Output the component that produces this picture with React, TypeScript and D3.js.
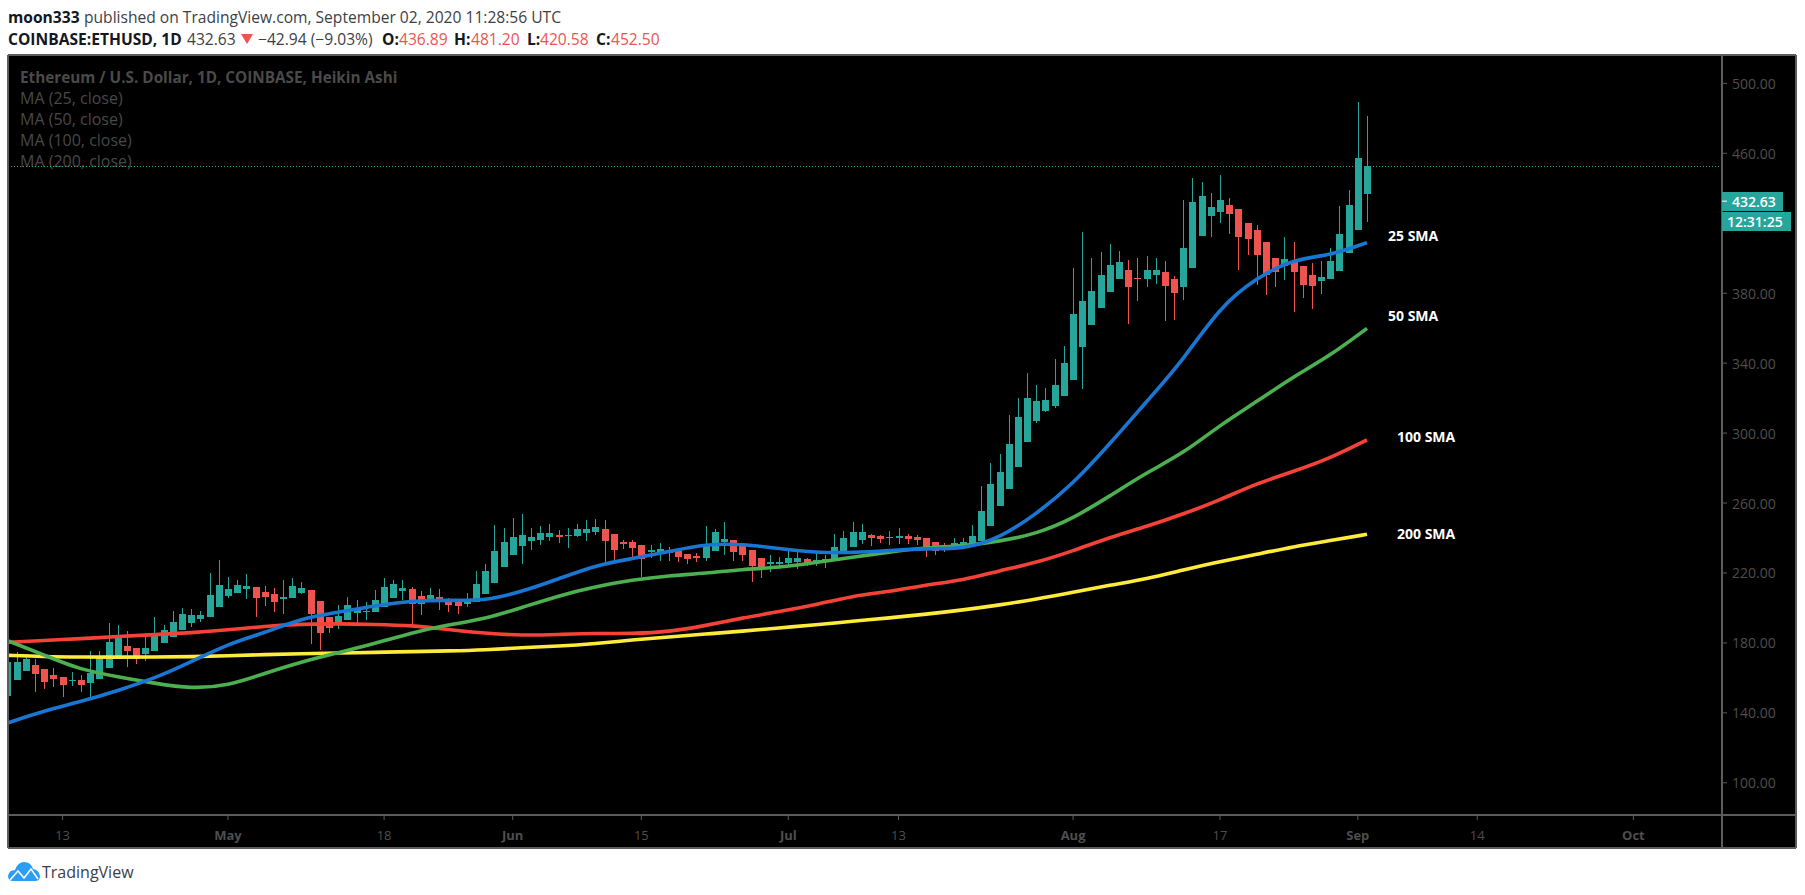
import * as d3 from "d3";

// Heikin Ashi candles, one per day from Apr 7 to Sep 2 2020
const firstDay = new Date(Date.UTC(2020, 3, 7));
const lastDay = new Date(Date.UTC(2020, 8, 2));

const candleOpen = [
  // Apr
  149.6,158.8,163.9,167.3,165,161.6,160.5,158.2,158.8,157,159.3,165.6,172.5,178.2,177.1,173.6,175.3,179.9,183.3,187.4,191.4,193.6,194.8,200.5,
  // May
  206.8,208.5,210.8,211.9,209.1,207.9,205.1,205.7,208.5,210.2,203.9,194.8,191.4,193.1,197.1,197.7,197.7,200.5,205.7,209.7,210.8,206.8,204.5,206.2,205.1,203.4,202.3,203.4,208,214.3,223.4,
  // Jun
  230.3,235.5,238.3,238.9,240.6,241.7,241.2,241.2,242.9,243.5,245.2,242.3,237.7,237.7,236,232,232,233.2,232.6,230.9,229.7,228.6,232.6,237.7,238.9,235.5,233.2,228.6,225.2,225.2,
  // Jul
  225.7,226.3,228,226.9,227.4,226.9,230.9,234.9,238.9,241.7,241.2,240,240,241.2,240.6,240,237.7,235.5,234.3,234.8,235.4,238.3,246.9,258.3,268,280.6,294.9,306.9,312.6,315.5,321.2,
  // Aug
  330.4,349.3,361.8,371.6,380.7,388.1,393.3,388.7,388.1,390.4,392.1,388.1,383.6,394.4,412.7,424.1,426.4,430.4,428.1,420.2,416.2,409.3,400.2,395.6,397.9,395.6,390.4,387,388.1,392.7,403,
  // Sep
  416.2,436.89,
];
const candleClose = [
  169.1,169.1,170.8,162.2,157.6,159.3,155.9,158.8,155.9,162.8,171.9,180.5,183.9,175.3,170.8,177.1,185.6,187.4,191.9,196.5,195.9,195.9,207.4,213.1,
  210.8,213.1,212.5,205.7,206.2,203.4,206.2,212.5,211.4,196.5,185.6,188.5,195.4,201.7,198.8,198.2,204.5,211.9,213.7,211.4,202.2,202.2,207.4,203.4,201.7,201.1,205.1,213.7,221.2,232.6,237.7,
  240.6,241.7,240.6,242.9,242.9,240.6,241.7,245.2,245.2,246.3,238.3,233.2,236.6,234.3,228,233.2,233.7,231.5,229.2,228,228.6,236.6,243.5,239.5,232,230.3,224,222.3,226.3,226.3,
  228.6,228.6,225.7,227.4,228,234.9,240,243.5,243.5,240,239.5,240.6,241.2,239.5,238.9,234.9,232.6,234.3,237.1,237.7,241.1,255.4,270.9,277.7,293.7,309.2,320,318.3,318.9,327.5,340.1,
  368.1,375.6,381.3,390.4,396.1,397.9,383.6,388.1,393.3,393.3,384.1,380.1,405.9,432.1,435.6,429.3,433.3,425.3,412.2,411,401.9,390.4,392.1,399.6,392.1,384.7,384.1,389.3,398.4,413.9,430.4,
  457.3,452.5,
];
const candleHigh = [
  169.1,174.8,173.4,170.8,165,165.6,160.5,163.3,161.6,175.3,175.3,191.4,190.2,186.8,177.1,184.5,194.8,190.2,198.2,199.9,199.3,198.2,219.9,227.4,
  217.7,216,219.4,211.9,212.5,211.4,216,217.1,214.8,210.2,203.9,194.8,201.7,206.2,204.5,203.4,210.2,217.1,216,216,211.9,209.7,211.4,210.8,205.7,205,208.6,221.2,225.2,247.5,245.8,
  251.5,253.8,245.8,246.9,248,244.6,245.8,248,250.3,250.9,250.3,242.3,238.9,238.9,236,236,237.2,234.9,232.6,230.9,231.5,246.9,245.2,249.2,238.9,235.5,233.2,228.6,230.3,229.2,
  233.2,232,228.6,231.5,230.3,242.3,244,249.2,248,242.3,241.7,244,245.8,242.3,241.7,240,237.7,237.2,240,240,247.4,269.7,282.9,288,310.3,320,334.3,327.5,325.8,342.4,349.8,
  394.4,415,400.2,403.6,408.2,404.2,399,400.2,401.3,400.2,398.4,389.9,433.3,445.9,443.6,437.3,447.6,434.4,428.1,420.2,419,409.3,400.2,412.2,409.3,395.6,397.3,398.4,405.9,429.9,439,
  489.3,481.2,
];
const candleLow = [
  149.6,158.8,163.9,151.9,153.6,154.8,149,155.3,151.9,147.9,159.3,165.6,172.5,166.2,167.9,169.6,175.3,179.9,183.3,187.4,189.1,191.9,194.8,200.5,
  205.7,208.5,205.1,194.8,201.1,197.7,196.5,205.7,207.9,179.4,175.9,185.6,187.9,193.1,190.8,193.1,197.7,200.5,205.7,204.5,190.8,195.9,203.9,198.8,197.7,196.6,200.6,203.4,208,214.3,223.4,
  230.3,225.2,233.2,236,238.3,237.2,234.3,240.6,238.3,241.7,224.6,227.5,233.7,229.2,217.7,228.6,226.9,226.9,226.3,225.2,226.3,226.9,232.6,230.3,226.9,226.9,214.9,217.2,220.6,222.3,
  224,222.3,224,224,222.9,226.9,230.9,234.9,236.6,235.5,237.2,236,236.6,236.6,236,229.2,230.3,232,233.1,233.7,235.4,238.3,246.9,258.3,268,280.6,294.9,305.8,312,314.4,321.2,
  330.4,325.2,361.8,371.6,380.7,388.1,362.4,375.6,383.6,385.3,364.1,364.7,376.1,394.4,412.7,412.2,420.2,413.9,393.3,401.9,384.7,379,383.6,387.6,369.3,377.3,371,379.6,388.1,392.7,403,
  416.2,420.58,
];

// moving averages, read every 4th day starting Apr 7
const sma25 = [134.2,141.2,146.4,152.7,159.7,169.2,179.4,185.8,194,197.5,201.3,204.1,204.5,204,209.3,216.6,224.4,228.2,232.2,236.6,236.6,233.9,231.6,231.6,232.8,234.1,233.5,239.8,253.7,270.9,293.8,318,341.8,372.3,388.9,399.6,401.5,408.9];
const sma50 = [181.3,173.1,164.5,160.7,156.9,153.8,155.5,162.6,169.2,174.4,179.7,185.8,190.4,193.7,200.2,207,212.2,216,218.5,219.8,222.1,223.1,225.9,229,232,234.5,235.4,238.1,242.3,251.1,264,277.4,288.4,304.6,318,332.3,344.3,359.9];
const sma100 = [180.3,181.4,182.4,183.7,184.7,185.8,187.4,189.5,190.8,191,190.6,190,187.7,185.5,184.2,184.8,185.5,185.3,186.3,189.9,194.3,197.9,201.7,206.9,209.3,213.2,215.8,221.3,225.9,232.6,240.4,246.5,253.7,261.7,271.3,278,285.6,296.1];
const sma200 = [172.9,172.1,171.9,171.9,171.9,172.1,172.7,173.3,173.8,174.2,174.6,175,175.4,176,177.3,178.1,179.6,181.7,183.4,185.1,186.7,188.6,190.3,192.4,194.3,196.4,198.8,201.7,205,208.9,213,216.6,221.7,226.5,230.7,235,238.5,242.1];

// 420 sits behind the countdown box in the reference, so it is not listed
const priceTicks = [500, 460, 380, 340, 300, 260, 220, 180, 140, 100];
const dateTicks = [
  { date: [3, 13], label: "13" },
  { date: [4, 1], label: "May" },
  { date: [4, 18], label: "18" },
  { date: [5, 1], label: "Jun" },
  { date: [5, 15], label: "15" },
  { date: [6, 1], label: "Jul" },
  { date: [6, 13], label: "13" },
  { date: [7, 1], label: "Aug" },
  { date: [7, 17], label: "17" },
  { date: [8, 1], label: "Sep" },
  { date: [8, 14], label: "14" },
  { date: [9, 1], label: "Oct" },
];
const maLegend = ["MA (25, close)", "MA (50, close)", "MA (100, close)", "MA (200, close)"];
const maLabels = ["25 SMA", "50 SMA", "100 SMA", "200 SMA"];

const lastClose = 452.5;
const lastPrice = 432.63;

const UP = "#26a69a";
const DOWN = "#ef5350";
const FRAME = "#5c5c5c";
const AXIS_TEXT = "#4e4e4e";
const FONT = "'Open Sans', sans-serif";

const pane = { left: 8, right: 1722, top: 55, bottom: 815, outer: 1796, foot: 848 };

const xScale = d3
  .scaleUtc()
  .domain([new Date(Date.UTC(2020, 3, 13)), new Date(Date.UTC(2020, 9, 1))])
  .range([62.6, 1633.4]);

const yScale = d3.scaleLinear().domain([460, 100]).range([153.3, 782.8]);

const days = d3.utcDay.range(firstDay, d3.utcDay.offset(lastDay, 1));
const maDays = d3.utcDay.range(firstDay, d3.utcDay.offset(lastDay, 1), 4);

const maLine = d3
  .line<number>()
  .x((_, i) => xScale(maDays[i]))
  .y((d) => yScale(d))
  .curve(d3.curveBasis);

const maSeries = [
  { values: sma200, color: "#ffeb3b" },
  { values: sma100, color: "#f44336" },
  { values: sma50, color: "#4caf50" },
  { values: sma25, color: "#1976d2" },
];

const priceFormat = d3.format(".2f");

export default function App() {
  const closeY = Math.round(yScale(lastClose)) + 0.5;

  return (
    <svg
      width={1805}
      height={895}
      style={{ position: "absolute", left: 0, top: 0, background: "#fff" }}
      fontFamily={FONT}
    >
      <defs>
        <clipPath id="pane">
          <rect x={pane.left} y={pane.top} width={pane.right - pane.left} height={pane.bottom - pane.top} />
        </clipPath>
      </defs>

      {/* header */}
      <g fontSize={15.6} fill="#131722" dominantBaseline="central">
        <text x={8} y={17} fontWeight={700}>moon333</text>
        <text x={84} y={17} fill="#3c3f47">published on TradingView.com, September 02, 2020 11:28:56 UTC</text>
        <text x={8} y={39} fontWeight={700}>COINBASE:ETHUSD, 1D</text>
        <text x={187} y={39} fill="#3c3f47">432.63</text>
        <path d="M241,34 L253,34 L247,44 Z" fill={DOWN} />
        <text x={258} y={39} fill="#3c3f47">−42.94 (−9.03%)</text>
        <text x={382} y={39} fontWeight={700}>O:</text>
        <text x={399} y={39} fill={DOWN}>436.89</text>
        <text x={454} y={39} fontWeight={700}>H:</text>
        <text x={471} y={39} fill={DOWN}>481.20</text>
        <text x={527} y={39} fontWeight={700}>L:</text>
        <text x={540} y={39} fill={DOWN}>420.58</text>
        <text x={596} y={39} fontWeight={700}>C:</text>
        <text x={611} y={39} fill={DOWN}>452.50</text>
      </g>

      {/* chart background and frame */}
      <rect x={pane.left} y={pane.top} width={pane.outer - pane.left} height={pane.foot - pane.top} fill="#000" />

      {/* legend inside the pane */}
      <g dominantBaseline="central">
        <text x={20} y={77} fontSize={15.3} fontWeight={700} fill="#4a4a4a">
          Ethereum / U.S. Dollar, 1D, COINBASE, Heikin Ashi
        </text>
        {maLegend.map((label, i) => (
          <text key={label} x={20} y={98 + i * 21} fontSize={16} fill="#484848">{label}</text>
        ))}
      </g>

      <g clipPath="url(#pane)">
        {/* last close */}
        <line
          x1={pane.left}
          x2={pane.right}
          y1={closeY}
          y2={closeY}
          stroke={UP}
          strokeDasharray="1 2"
          shapeRendering="crispEdges"
        />

        {/* candles */}
        {days.map((day, i) => {
          const cx = Math.round(xScale(day)) + 0.5;
          const color = candleClose[i] >= candleOpen[i] ? UP : DOWN;
          const top = yScale(Math.max(candleOpen[i], candleClose[i]));
          const bottom = yScale(Math.min(candleOpen[i], candleClose[i]));
          return (
            <g key={i} fill={color} stroke={color}>
              <line x1={cx} x2={cx} y1={yScale(candleHigh[i])} y2={yScale(candleLow[i])} shapeRendering="crispEdges" />
              <rect
                x={cx - 3.5}
                y={top}
                width={7}
                height={Math.max(bottom - top, 1)}
                stroke="none"
                shapeRendering="crispEdges"
              />
            </g>
          );
        })}

        {/* moving averages */}
        {maSeries.map((s) => (
          <path key={s.color} d={maLine(s.values) ?? ""} fill="none" stroke={s.color} strokeWidth={3.6} />
        ))}
      </g>

      {/* SMA notes */}
      <g fill="#fff" fontSize={14} fontWeight={700} dominantBaseline="central">
        <text x={1388} y={235}>{maLabels[0]}</text>
        <text x={1388} y={315}>{maLabels[1]}</text>
        <text x={1397} y={436}>{maLabels[2]}</text>
        <text x={1397} y={533}>{maLabels[3]}</text>
      </g>

      {/* frame lines */}
      <g stroke={FRAME} strokeWidth={1.5} shapeRendering="crispEdges">
        <line x1={pane.left} x2={pane.outer} y1={pane.top} y2={pane.top} />
        <line x1={pane.left} x2={pane.outer} y1={pane.foot} y2={pane.foot} />
        <line x1={pane.left} x2={pane.outer} y1={pane.bottom} y2={pane.bottom} />
        <line x1={pane.left} x2={pane.left} y1={pane.top} y2={pane.foot} />
        <line x1={pane.right} x2={pane.right} y1={pane.top} y2={pane.foot} />
        <line x1={pane.outer} x2={pane.outer} y1={pane.top} y2={pane.foot} />
      </g>

      {/* price axis */}
      <g fontSize={14} fill={AXIS_TEXT}>
        {priceTicks.map((p) => (
          <g key={p}>
            <line x1={pane.right} x2={pane.right + 5} y1={yScale(p)} y2={yScale(p)} stroke={FRAME} />
            <text x={1732} y={yScale(p)} dominantBaseline="central">{priceFormat(p)}</text>
          </g>
        ))}
      </g>

      {/* last price boxes */}
      <rect x={pane.right} y={192} width={61} height={19} fill={UP} />
      <line x1={pane.right} x2={pane.right + 5} y1={yScale(lastPrice)} y2={yScale(lastPrice)} stroke="#fff" />
      <text x={1732} y={201.5} fontSize={14} fontWeight={600} fill="#fff" dominantBaseline="central">
        {priceFormat(lastPrice)}
      </text>
      <rect x={pane.right} y={212} width={69} height={19} fill={UP} />
      <text x={1727} y={221.5} fontSize={14} fontWeight={600} fill="#fff" dominantBaseline="central">12:31:25</text>

      {/* time axis */}
      <g fontSize={13} fill={AXIS_TEXT} textAnchor="middle">
        {dateTicks.map((t) => {
          const x = xScale(new Date(Date.UTC(2020, t.date[0], t.date[1])));
          return (
            <g key={t.date.join("-")}>
              <line x1={x} x2={x} y1={pane.bottom} y2={pane.bottom + 5} stroke={FRAME} />
              <text x={x} y={835} fontWeight={/[a-z]/.test(t.label) ? 700 : 400} dominantBaseline="central">
                {t.label}
              </text>
            </g>
          );
        })}
      </g>

      {/* logo */}
      <path
        d="M8,876 Q9,870 15,870 Q18,862 24,862 Q31,862 33,869 Q39,870 40,876 Q40,881 35,881 L13,881 Q8,881 8,876 Z"
        fill="#2a9df4"
      />
      <path d="M10,880 L18,871 L24,878 L31,869 L38,879" fill="none" stroke="#fff" strokeWidth={1.6} />
      <text x={42} y={872} fontSize={16} fill="#3a3e48" dominantBaseline="central">TradingView</text>
    </svg>
  );
}
